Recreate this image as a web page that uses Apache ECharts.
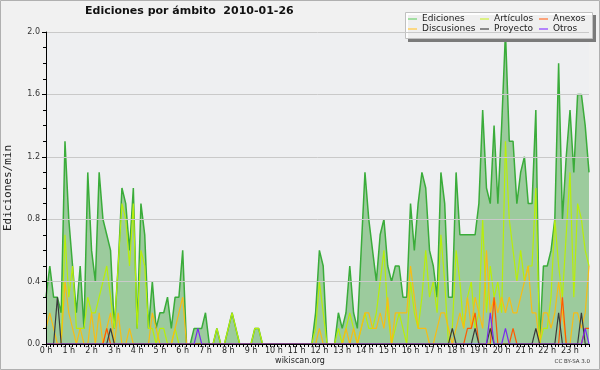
<!DOCTYPE html>
<html>
<head>
<meta charset="utf-8">
<script src="https://cdn.jsdelivr.net/npm/echarts/dist/echarts.min.js"></script>
<style>
html,body{margin:0;padding:0;background:#f1f1f1;}
#chart{width:600px;height:370px;}
</style>
</head>
<body>
<div id="chart"></div>
<script>
// Tick labels (one per hour); each hour has 6 ten-minute slots
const hourLabels = ['0 h','1 h','2 h','3 h','4 h','5 h','6 h','7 h','8 h','9 h','10 h','11 h',
  '12 h','13 h','14 h','15 h','16 h','17 h','18 h','19 h','20 h','21 h','22 h','23 h'];
const slotMinutes = ['00','10','20','30','40','50'];
const yTicks = [0, 0.4, 0.8, 1.2, 1.6, 2.0];

// Ediciones/min per 10-minute slot (one row per hour)
const ediciones = [
  0.3,0.5,0.3,0.3,0.2,1.3,
  0.8,0.5,0.2,0.5,0.1,1.1,
  0.6,0.4,1.1,0.8,0.7,0.6,
  0.1,0.5,1.0,0.9,0.6,1.0,
  0.1,0.9,0.7,0.1,0.4,0.1,
  0.2,0.2,0.3,0.1,0.3,0.3,
  0.6,0,0,0.1,0.1,0.1,
  0.2,0,0,0.1,0,0,
  0.1,0.2,0.1,0,0,0,
  0,0.1,0.1,0,0,0,
  0,0,0,0,0,0,
  0,0,0,0,0,0.2,
  0.6,0.5,0,0,0,0.2,
  0.1,0.2,0.5,0.2,0.1,0.6,
  1.1,0.8,0.6,0.4,0.7,0.8,
  0.5,0.4,0.5,0.5,0.3,0.3,
  0.9,0.6,0.9,1.1,1.0,0.6,
  0.5,0.3,1.1,0.9,0.3,0.3,
  1.1,0.7,0.7,0.7,0.7,0.7,
  0.9,1.5,1.0,0.9,1.4,0.9,
  1.4,2.0,1.3,1.3,0.9,1.1,
  1.2,0.9,0.9,1.5,0,0.5,
  0.5,0.6,0.8,1.8,0.8,1.2,
  1.5,1.1,1.6,1.6,1.4,1.1
];
const articulos = [
  0,0,0,0,0,0.7,
  0.3,0.5,0.1,0.1,0.1,0.3,
  0.2,0.2,0.3,0.4,0.5,0.3,
  0.1,0.5,0.9,0.8,0.5,0.9,
  0.1,0.6,0.5,0.1,0.1,0,
  0.1,0.1,0,0,0.1,0,
  0,0,0,0,0,0,
  0,0,0,0.1,0,0,
  0.1,0.2,0.1,0,0,0,
  0,0.1,0.1,0,0,0,
  0,0,0,0,0,0,
  0,0,0,0,0,0.1,
  0.4,0.2,0,0,0,0.1,
  0,0.1,0.2,0.1,0,0.1,
  0.2,0.1,0.1,0.2,0.4,0.6,
  0.2,0,0.1,0.2,0.1,0,
  0.4,0.2,0.1,0.3,0.6,0.3,
  0.4,0.2,0.7,0.4,0,0.1,
  0.6,0.4,0.1,0.3,0.4,0.1,
  0.2,0.8,0.2,0.5,0.3,0.4,
  0.2,1.3,0.8,0.6,0.4,0.6,
  0.4,0.5,0.5,1.0,0,0.1,
  0.1,0.3,0.8,0.5,0.3,0.7,
  1.1,0.3,0.9,0.8,0.6,0.5
];
const discusiones = [
  0.1,0.2,0.1,0,0,0.4,
  0.2,0.1,0,0.1,0,0,
  0.2,0,0.2,0,0.1,0.2,
  0,0.2,0,0,0.1,0,
  0,0,0,0,0.2,0.1,
  0,0,0,0,0.1,0.2,
  0.3,0,0,0,0,0,
  0,0,0,0,0,0,
  0,0,0,0,0,0,
  0,0,0,0,0,0,
  0,0,0,0,0,0,
  0,0,0,0,0,0,
  0.1,0,0,0,0,0,
  0,0.1,0,0.1,0,0.1,
  0.2,0.2,0.1,0.1,0.2,0.1,
  0.3,0,0.2,0.2,0.2,0.2,
  0.5,0.3,0.1,0.1,0.1,0,
  0,0.1,0.2,0.2,0.1,0,
  0.1,0.2,0.1,0.3,0.1,0.3,
  0.2,0.1,0.6,0.2,0.3,0.2,
  0.3,0.2,0.3,0.2,0.2,0.3,
  0.4,0.5,0.2,0.2,0,0.2,
  0.2,0.1,0.2,0.4,0.2,0,
  0,0.2,0.2,0.1,0.2,0.5
];
const anexos = [
  0,0,0,0,0,0,  0,0,0,0,0,0,  0,0,0,0,0.1,0,  0,0,0,0,0,0,
  0,0,0,0,0,0,  0,0,0,0,0,0,  0,0,0,0,0,0,  0,0,0,0,0,0,
  0,0,0,0,0,0,  0,0,0,0,0,0,  0,0,0,0,0,0,  0,0,0,0,0,0,
  0,0,0,0,0,0,  0,0,0,0,0,0,  0,0,0,0,0,0,  0,0,0,0,0,0,
  0,0,0,0,0,0,  0,0,0,0,0,0,  0,0,0,0.1,0.1,0.2,  0,0,0,0,0.3,0,
  0,0,0,0.1,0,0,  0,0,0,0,0,0,  0,0,0,0,0.3,0,  0,0,0,0,0.1,0.1
];
const proyecto = [
  0,0,0,0.3,0,0,  0,0,0,0,0,0,  0,0,0,0,0,0.1,  0,0,0,0,0,0,
  0,0,0,0,0,0,  0,0,0,0,0,0,  0,0,0,0,0,0,  0,0,0,0,0,0,
  0,0,0,0,0,0,  0,0,0,0,0,0,  0,0,0,0,0,0,  0,0,0,0,0,0,
  0,0,0,0,0,0,  0,0,0,0,0,0,  0,0,0,0,0,0,  0,0,0,0,0,0,
  0,0,0,0,0,0,  0,0,0,0,0,0.1,  0,0,0,0,0,0.1,  0,0,0,0.1,0,0,
  0,0,0,0,0,0,  0,0,0,0.1,0,0,  0,0,0,0.2,0,0,  0,0,0,0.2,0,0
];
const otros = [
  0,0,0,0,0,0,  0,0,0,0,0,0,  0,0,0,0,0,0,  0,0,0,0,0,0,
  0,0,0,0,0,0,  0,0,0,0,0,0,  0,0,0,0,0.1,0,  0,0,0,0,0,0,
  0,0,0,0,0,0,  0,0,0,0,0,0,  0,0,0,0,0,0,  0,0,0,0,0,0,
  0,0,0,0,0,0,  0,0,0,0,0,0,  0,0,0,0,0,0,  0,0,0,0,0,0,
  0,0,0,0,0,0,  0,0,0,0,0,0,  0,0,0,0,0,0,  0,0,0,0.2,0,0,
  0,0.1,0,0,0,0,  0,0,0,0,0,0,  0,0,0,0,0,0,  0,0,0,0,0.1,0
];

const categories = [];
hourLabels.forEach((h, hi) => slotMinutes.forEach(m => categories.push(hi + ':' + m)));

const chart = echarts.init(document.getElementById('chart'), null, {renderer: 'canvas'});
const FONT = 'DejaVu Sans';

function lineSeries(name, data, color, width, z) {
  return {
    name, type: 'line', data, showSymbol: false, symbol: 'none',
    lineStyle: {color, width}, itemStyle: {color}, z: z || 2,
    emphasis: {disabled: true}
  };
}

const legendText = {fontFamily: FONT, fontSize: 9, color: '#222', lineHeight: 10};
function legendCol(left, items) {
  return {
    left, top: 14, orient: 'vertical', itemGap: 0, padding: 0,
    icon: 'rect', itemWidth: 9, itemHeight: 1.5, selectedMode: false,
    textStyle: legendText, z: 10,
    data: items.map(([name, color]) => ({name, itemStyle: {color}}))
  };
}

chart.setOption({
  animation: false,
  backgroundColor: '#f1f1f1',
  title: {
    text: 'Ediciones por ámbito  2010-01-26', left: 85, top: 6, padding: 0,
    textStyle: {fontFamily: FONT, fontWeight: 'bold', fontSize: 11, color: '#111'}
  },
  legend: [
    legendCol(408, [['Ediciones', '#8ad88a'], ['Discusiones', '#ffd060']]),
    legendCol(480, [['Artículos', '#d4f060'], ['Proyecto', '#666666']]),
    legendCol(539, [['Anexos', '#ff8a55'], ['Otros', '#a060ff']])
  ],
  grid: {left: 46, right: 11, top: 32, bottom: 26, show: true, backgroundColor: '#eeeff1', borderWidth: 0,
         containLabel: false, outerBoundsMode: 'none'},
  xAxis: {
    type: 'category', data: categories, boundaryGap: false, z: 10,
    axisLine: {lineStyle: {color: '#000', width: 1}},
    axisTick: {interval: 0, length: 3, lineStyle: {color: '#000'}},
    axisLabel: {
      interval: 5, margin: 3, fontFamily: FONT, fontSize: 8, color: '#222',
      formatter: (v, idx) => hourLabels[Math.floor(idx / 6)]
    },
    splitLine: {show: false}
  },
  yAxis: {
    type: 'value', min: yTicks[0], max: yTicks[yTicks.length - 1], interval: 0.4, z: 10,
    name: 'Ediciones/min', nameLocation: 'middle', nameRotate: 90, nameGap: 32,
    nameTextStyle: {fontFamily: 'DejaVu Sans Mono', fontSize: 11, color: '#222'},
    axisLine: {show: true, lineStyle: {color: '#000', width: 1}},
    axisTick: {show: true, length: 4, lineStyle: {color: '#000'}},
    minorTick: {show: true, splitNumber: 4, length: 3, lineStyle: {color: '#000'}},
    axisLabel: {margin: 6, fontFamily: FONT, fontSize: 8, color: '#333', formatter: v => v.toFixed(1)},
    splitLine: {show: true, lineStyle: {color: '#c9c9c9', width: 1}}
  },
  series: [
    Object.assign(lineSeries('Ediciones', ediciones, '#3aac3a', 1.5, 2), {
      areaStyle: {color: '#4aa84a', opacity: 0.5}
    }),
    lineSeries('Artículos', articulos, '#b8ee0a', 1.2, 3),
    lineSeries('Discusiones', discusiones, '#f7bd14', 1.2, 3),
    lineSeries('Anexos', anexos, '#ff5a00', 1.2, 4),
    lineSeries('Proyecto', proyecto, '#3a3a3a', 1.2, 4),
    lineSeries('Otros', otros, '#7a2cf0', 1.2, 4)
  ],
  graphic: [
    {type: 'rect', z: 8, shape: {x: 0.5, y: 0.5, width: 599, height: 369}, style: {fill: 'none', stroke: '#b0b0b0', lineWidth: 1}},
    {type: 'rect', z: 8, shape: {x: 408, y: 15, width: 188, height: 27}, style: {fill: '#7a7a7a'}},
    {type: 'rect', z: 9, shape: {x: 405.5, y: 12.5, width: 187, height: 26}, style: {fill: 'rgba(255,255,255,0.88)', stroke: '#c0c0c0', lineWidth: 1}},
    {type: 'text', z: 9, x: 300, y: 361, style: {text: 'wikiscan.org', fill: '#222', font: '8px "DejaVu Sans"', textAlign: 'center', textVerticalAlign: 'middle'}},
    {type: 'text', z: 9, x: 590, y: 362, style: {text: 'CC BY-SA 3.0', fill: '#333', font: '5.5px "DejaVu Sans"', textAlign: 'right', textVerticalAlign: 'middle'}}
  ]
});
</script>
</body>
</html>
